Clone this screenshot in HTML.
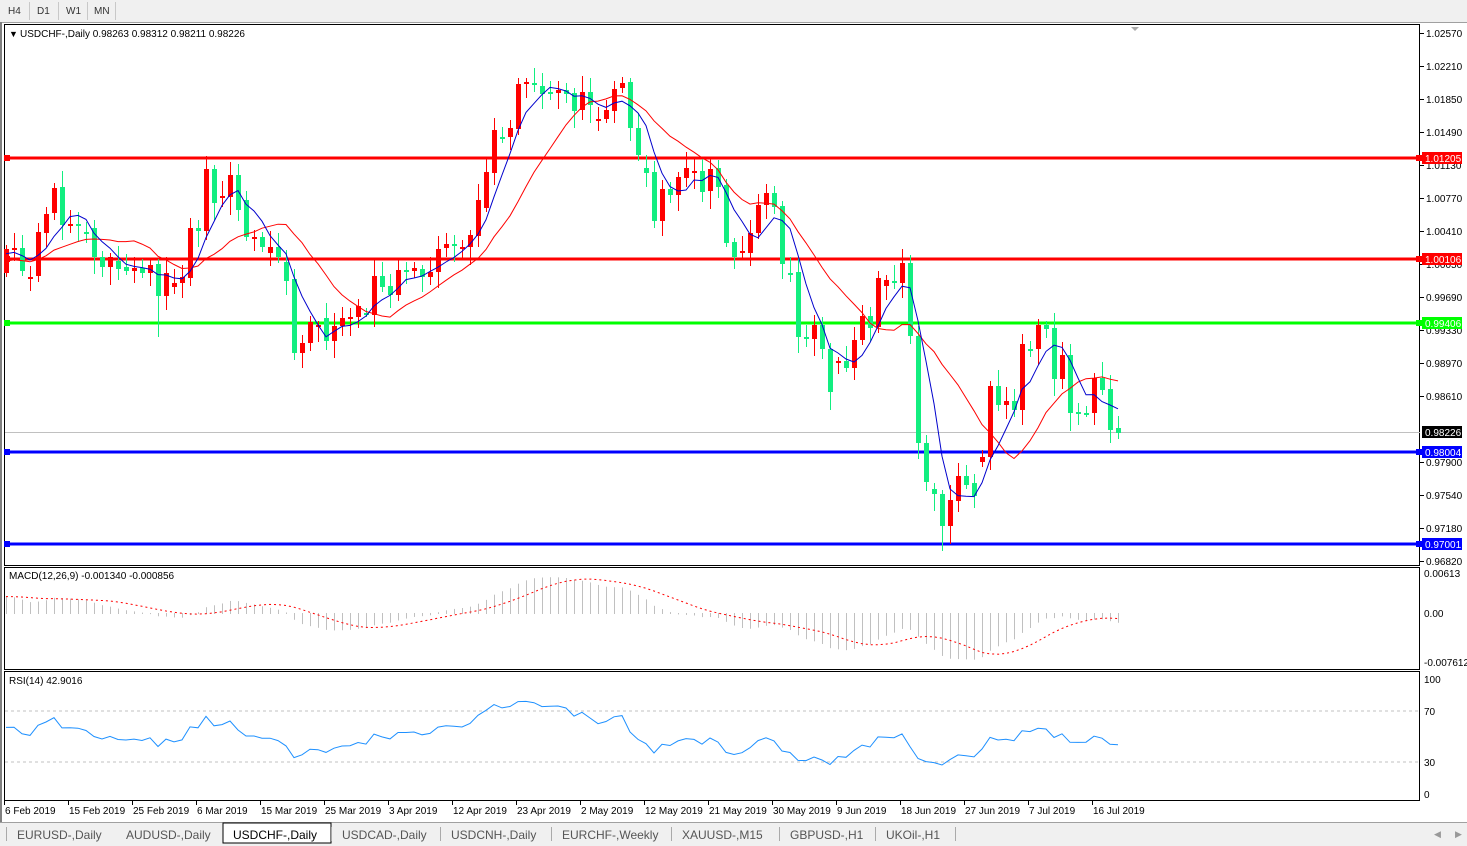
<!DOCTYPE html>
<html><head><meta charset="utf-8"><style>
body{margin:0;width:1467px;height:846px;overflow:hidden;background:#fff;font-family:"Liberation Sans",sans-serif;}
svg{position:absolute;left:0;top:0}
</style></head><body>
<svg id="s" width="1467" height="846" xmlns="http://www.w3.org/2000/svg" font-family="Liberation Sans, sans-serif"></svg>
<script>
const C=[[273,249],[249,248],[248,271],[278,277],[276,232],[233,214],[213,188],[187,225],[225,224],[224,226],
[232,234],[228,257],[257,267],[267,257],[261,269],[267,271],[271,268],[268,273],[273,265],[264,296],
[296,273],[287,283],[283,277],[278,228],[228,231],[231,169],[169,203],[197,196],[197,175],[175,210],
[200,237],[239,237],[237,247],[253,247],[247,257],[262,281],[279,353],[353,343],[343,322],[326,325],
[318,341],[341,326],[326,318],[318,317],[317,306],[313,313],[315,276],[276,287],[286,295],[295,270],
[270,270],[271,268],[269,277],[277,272],[272,249],[248,244],[244,245],[248,247],[247,235],[236,200],
[208,172],[173,130],[137,138],[137,128],[129,84],[84,82],[83,85],[86,94],[92,92],[93,90],
[90,94],[93,111],[110,92],[92,105],[120,119],[119,110],[111,89],[88,83],[82,128],[128,155],
[168,173],[172,221],[221,189],[189,195],[195,177],[178,168],[172,171],[171,192],[191,169],[168,187],
[185,243],[242,257],[253,251],[253,233],[233,205],[205,193],[193,207],[206,264],[273,274],[272,337],
[337,338],[339,325],[325,349],[349,392],[363,361],[361,368],[368,340],[340,316],[316,328],[327,278],
[286,280],[281,282],[283,263],[263,336],[336,443],[443,482],[489,494],[494,526],[526,500],[501,476],
[476,485],[483,496],[462,457],[457,386],[386,405],[405,401],[401,410],[410,344],[349,349],[349,325],
[325,329],[328,379],[379,355],[355,413],[412,414],[413,413],[413,378],[378,390],[389,430],[428,433]];
const SP={19:[null,337],25:[156,null],113:[255,null],117:[null,551]};
let s='';
const X=i=>6+8*i, P=y=>1.0257-(y-33)/9182;
s+='<rect x="0" y="0" width="1467" height="22" fill="#f0f0f0"/>';
s+='<rect x="0" y="22" width="1467" height="1" fill="#a0a0a0"/>';
[['H4',4],['D1',33],['W1',62],['MN',90]].forEach(([t,x],k)=>{s+=`<text x="${x+4}" y="14" font-size="10" fill="#333">${t}</text>`;s+=`<rect x="${x+25}" y="2" width="1" height="18" fill="#c8c8c8"/>`});
s+='<rect x="4.5" y="24.5" width="1415" height="541" fill="none" stroke="#000"/>';
s+='<rect x="4.5" y="567.5" width="1415" height="102" fill="none" stroke="#000"/>';
s+='<rect x="4.5" y="671.5" width="1415" height="129" fill="none" stroke="#000"/>';
s+='<rect x="0" y="22" width="2" height="800" fill="#808080"/>';
const PL=['1.02570','1.02210','1.01850','1.01490','1.01130','1.00770','1.00410','1.00050','0.99690','0.99330','0.98970','0.98610',null,'0.97900','0.97540','0.97180','0.96820'];
PL.forEach((p,k)=>{if(!p)return;const y=33+k*33;s+=`<rect x="1420" y="${y}" width="4" height="1" fill="#000"/><text x="1426" y="${y+4}" font-size="10" fill="#000">${p}</text>`;});
[[158,'#ff0000','1.01205'],[259,'#ff0000','1.00106'],[323,'#00ff00','0.99406'],[452,'#0000ff','0.98004'],[544,'#0000ff','0.97001']].forEach(([y,c,t])=>{
s+=`<rect x="5" y="${y-1.5}" width="1415" height="3" fill="${c}"/><rect x="4" y="${y-3}" width="6" height="6" fill="${c}"/><rect x="1416" y="${y-3}" width="6" height="6" fill="${c}"/>`;
s+=`<rect x="1422" y="${y-6}" width="40" height="12" fill="${c}"/><text x="1425" y="${y+4}" font-size="10" fill="#fff">${t}</text>`;});
s+='<rect x="5" y="432" width="1415" height="1" fill="#c0c0c0"/><rect x="1422" y="426" width="40" height="12" fill="#000"/><text x="1425" y="436" font-size="10" fill="#fff">0.98226</text>';
C.forEach(([o,c],i)=>{const x=X(i);const up=c<o;const col=up?'#ff0000':'#12ee80';
let r=((i*37)%13)+4, r2=((i*53)%15)+4;let h=Math.min(o,c)-r,l=Math.max(o,c)+r2;
if(SP[i]){if(SP[i][0])h=SP[i][0];if(SP[i][1])l=SP[i][1];}
s+=`<rect x="${x}" y="${h}" width="1" height="${l-h}" fill="${col}"/>`;
const t=Math.min(o,c),bh=Math.max(2,Math.abs(o-c));s+=`<rect x="${x-2}" y="${t}" width="5" height="${bh}" fill="${col}"/>`;});
function sma(n){let pts=[];for(let i=0;i<C.length;i++){let a=0,m=0;for(let j=Math.max(0,i-n+1);j<=i;j++){a+=C[j][1];m++;}let v=a/m;if(i<n-1)v=(v*m+(n===13?262:255)*(n-m))/n;pts.push(X(i)+','+v.toFixed(1));}return pts.join(' ');}
s+=`<polyline points="${sma(13)}" fill="none" stroke="#ff0000" stroke-width="1"/>`;
s+=`<polyline points="${sma(5)}" fill="none" stroke="#0000cc" stroke-width="1"/>`;
let e12=P(C[0][1]),e26=e12-0.0028;const k12=2/13,k26=2/27;let mac=[],sg=[];
C.forEach(([o,c],i)=>{const p=P(c);e12+=k12*(p-e12);e26+=k26*(p-e26);mac.push(e12-e26);});
mac.forEach((m,i)=>{let a=0,n=0;for(let j=Math.max(0,i-8);j<=i;j++){a+=mac[j];n++;}sg.push(i<8?(a+0.0025*(9-n))/9:a/9);});
const MY=v=>613-v*6525;
mac.forEach((m,i)=>{const y=MY(m);s+=`<rect x="${X(i)}" y="${Math.min(y,613)}" width="1" height="${Math.abs(y-613)+1}" fill="#c0c0c0"/>`;});
s+=`<polyline points="${sg.map((v,i)=>X(i)+','+MY(v).toFixed(1)).join(' ')}" fill="none" stroke="#ff0000" stroke-dasharray="2,3"/>`;
s+='<text x="1424" y="577" font-size="10">0.00613</text><text x="1424" y="617" font-size="10">0.00</text><text x="1424" y="666" font-size="10">-0.007612</text>';
s+='<text x="9" y="579" font-size="10">MACD(12,26,9) -0.001340 -0.000856</text>';
const RY=v=>794-v*1.15;let ag=0.0011,al=0.0008,rs=[];
C.forEach(([o,c],i)=>{if(i>0){const d=P(c)-P(C[i-1][1]);ag=(ag*13+Math.max(d,0))/14;al=(al*13+Math.max(-d,0))/14;}rs.push(100-100/(1+ag/al));});
s+=`<line x1="5" y1="711" x2="1419" y2="711" stroke="#c0c0c0" stroke-dasharray="3,3"/><line x1="5" y1="762" x2="1419" y2="762" stroke="#c0c0c0" stroke-dasharray="3,3"/>`;
s+=`<polyline points="${rs.map((v,i)=>X(i)+','+RY(v).toFixed(1)).join(' ')}" fill="none" stroke="#1e90ff"/>`;
s+='<text x="9" y="684" font-size="10">RSI(14) 42.9016</text>';
[[100,683],[70,715],[30,766],[0,798]].forEach(([t,y])=>s+=`<text x="1424" y="${y}" font-size="10">${t}</text>`);
['6 Feb 2019','15 Feb 2019','25 Feb 2019','6 Mar 2019','15 Mar 2019','25 Mar 2019','3 Apr 2019','12 Apr 2019','23 Apr 2019','2 May 2019','12 May 2019','21 May 2019','30 May 2019','9 Jun 2019','18 Jun 2019','27 Jun 2019','7 Jul 2019','16 Jul 2019'].forEach((t,k)=>{const x=4+64*k;s+=`<rect x="${x}" y="801" width="1" height="4" fill="#000"/><text x="${x+1}" y="814" font-size="10">${t}</text>`;});
s+='<rect x="0" y="823" width="1467" height="23" fill="#f0f0f0"/><rect x="0" y="822" width="1467" height="1" fill="#a0a0a0"/>';
const tabs=[['EURUSD-,Daily',8],['AUDUSD-,Daily',117],['USDCHF-,Daily',224],['USDCAD-,Daily',333],['USDCNH-,Daily',442],['EURCHF-,Weekly',553],['XAUUSD-,M15',673],['GBPUSD-,H1',781],['UKOil-,H1',877]];
s+='<rect x="223" y="823" width="108" height="20" fill="#fff" stroke="#000"/>';
tabs.forEach(([t,x],k)=>{s+=`<text x="${x+9}" y="839" font-size="12" fill="${k==2?'#000':'#555'}">${t}</text>`;if(k!=1&&k!=2)s+=`<rect x="${x-2}" y="827" width="1" height="14" fill="#aaa"/>`;});
s+='<rect x="955" y="827" width="1" height="14" fill="#aaa"/><text x="1434" y="837" font-size="9" fill="#999">◀</text><text x="1455" y="837" font-size="9" fill="#999">▶</text>';
s+='<text x="9" y="37" font-size="9">▼</text><text x="20" y="37" font-size="10">USDCHF-,Daily  0.98263 0.98312 0.98211 0.98226</text>';
s+='<polygon points="1131,27 1139,27 1135,31" fill="#aaa"/>';
document.getElementById('s').innerHTML=s;
</script>
</body></html>
